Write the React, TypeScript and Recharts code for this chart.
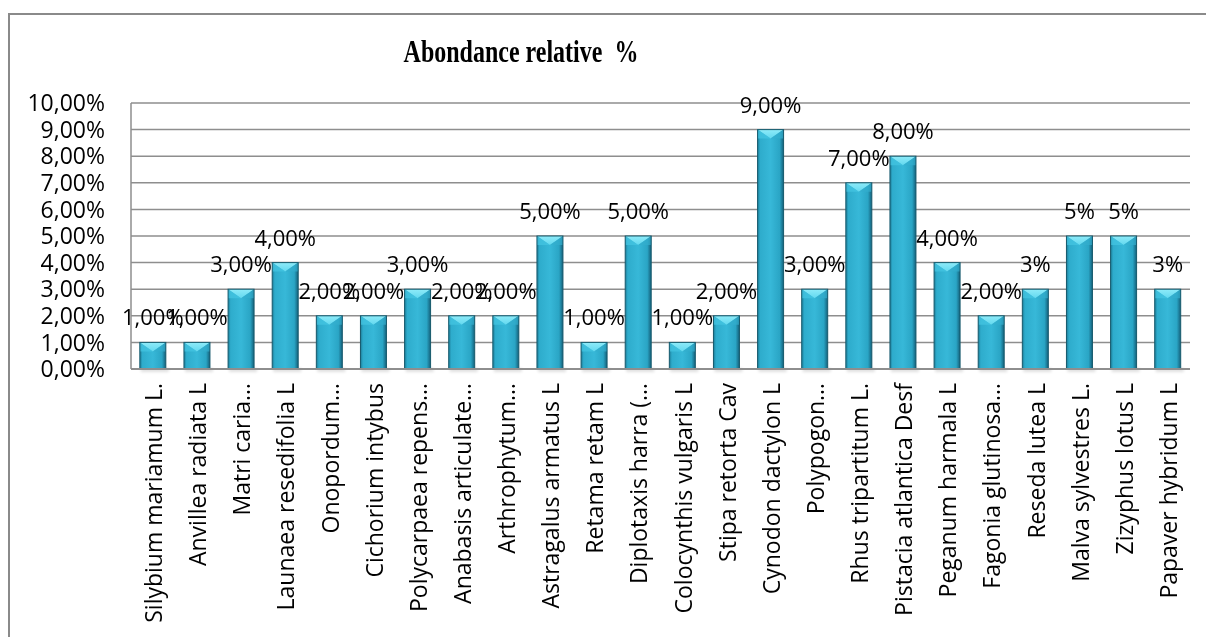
import React from "react";
import { BarChart, Bar, XAxis, YAxis, CartesianGrid, LabelList } from "recharts";

// Species shown on the category axis (long names are cut with an ellipsis)
const species = [
  "Silybium mariamum L.",
  "Anvillea radiata L",
  "Matri caria…",
  "Launaea resedifolia L",
  "Onopordum…",
  "Cichorium intybus",
  "Polycarpaea repens…",
  "Anabasis articulate…",
  "Arthrophytum…",
  "Astragalus armatus L",
  "Retama retam L",
  "Diplotaxis harra (…",
  "Colocynthis vulgaris L",
  "Stipa retorta Cav",
  "Cynodon dactylon L",
  "Polypogon…",
  "Rhus tripartitum L.",
  "Pistacia atlantica Desf",
  "Peganum harmala L",
  "Fagonia glutinosa…",
  "Reseda lutea L",
  "Malva sylvestres L.",
  "Zizyphus lotus L",
  "Papaver hybridum L",
];

// Relative abundance of each species (fraction)
const abundance = [
  0.01, 0.01, 0.03, 0.04, 0.02, 0.02, 0.03, 0.02, 0.02, 0.05, 0.01, 0.05,
  0.01, 0.02, 0.09, 0.03, 0.07, 0.08, 0.04, 0.02, 0.03, 0.05, 0.05, 0.03,
];

// Number of decimals used in each bar's value label
const labelDecimals = [
  2, 2, 2, 2, 2, 2, 2, 2, 2, 2, 2, 2, 2, 2, 2, 2, 2, 2, 2, 2, 0, 0, 0, 0,
];

// Value-axis ticks
const yTicks = [0, 0.01, 0.02, 0.03, 0.04, 0.05, 0.06, 0.07, 0.08, 0.09, 0.1];

const data = species.map((name, i) => ({
  name,
  value: abundance[i],
  decimals: labelDecimals[i],
}));

const FONT = "'Open Sans', 'DejaVu Sans', sans-serif";

const pct = (v: number, d: number) =>
  (v * 100).toFixed(d).replace(".", ",") + "%";

// Bevelled column with a lighter pointed top face
const BevelBar = (props: any) => {
  const { x, y, width, height } = props;
  if (!height || height <= 0) return null;
  const bevel = Math.min(9, height / 2);
  const cx = x + width / 2;
  return (
    <g>
      <rect
        x={x + 1}
        y={y + height - 1}
        width={width + 2}
        height={4}
        fill="#000"
        opacity={0.12}
        filter="url(#barShadow)"
      />
      <rect x={x} y={y} width={width} height={height} fill="url(#barBody)" />
      <polygon
        points={`${x},${y} ${x + width},${y} ${cx},${y + bevel}`}
        fill="url(#barTop)"
      />
      <polygon
        points={`${x},${y} ${cx},${y + bevel} ${x},${y + bevel}`}
        fill="#45c6e2"
        opacity={0.7}
      />
      <polygon
        points={`${x + width},${y} ${cx},${y + bevel} ${x + width},${y + bevel}`}
        fill="#33aecd"
        opacity={0.7}
      />
      <rect
        x={x}
        y={y}
        width={width}
        height={height}
        fill="none"
        stroke="#175a6d"
        strokeWidth={1}
      />
    </g>
  );
};

const ValueLabel = (props: any) => {
  const { x, y, width, index } = props;
  const d = data[index];
  return (
    <text
      x={x + width / 2}
      y={y - 26}
      textAnchor="middle"
      dominantBaseline="central"
      fontFamily={FONT}
      fontSize={22}
      fill="#000"
    >
      {pct(d.value, d.decimals)}
    </text>
  );
};

const CategoryTick = (props: any) => {
  const { x, y, payload } = props;
  return (
    <text
      x={0}
      y={0}
      transform={`translate(${x},${y + 6}) rotate(-90)`}
      textAnchor="end"
      dominantBaseline="central"
      fontFamily={FONT}
      fontSize={23}
      fill="#000"
    >
      {payload.value}
    </text>
  );
};

export default function App() {
  return (
    <div style={{ position: "relative", width: 1198, height: 629 }}>
      <div
        style={{
          position: "fixed",
          left: 8,
          right: 0,
          top: 13,
          bottom: 0,
          borderTop: "2px solid #8a8a8a",
          borderLeft: "2px solid #8a8a8a",
          boxSizing: "border-box",
        }}
      />
      <div
        style={{
          position: "absolute",
          left: 513,
          top: 44,
          transform: "translate(-50%, -50%) scaleY(1.3)",
          fontFamily: "'Liberation Serif', 'Times New Roman', serif",
          fontWeight: "bold",
          fontSize: 24,
          whiteSpace: "pre",
          color: "#000",
        }}
      >
        {"Abondance relative  %"}
      </div>
      <div style={{ position: "absolute", left: 0, top: 0 }}>
        <BarChart
          width={1198}
          height={629}
          data={data}
          margin={{ top: 95, right: 16, bottom: 0, left: 0 }}
          barCategoryGap="20%"
        >
          <defs>
            <linearGradient id="barBody" x1="0" y1="0" x2="1" y2="0">
              <stop offset="0%" stopColor="#1c7d98" />
              <stop offset="10%" stopColor="#2eaccc" />
              <stop offset="50%" stopColor="#37b8d8" />
              <stop offset="85%" stopColor="#2aa5c5" />
              <stop offset="100%" stopColor="#14607a" />
            </linearGradient>
            <linearGradient id="barTop" x1="0" y1="0" x2="0" y2="1">
              <stop offset="0%" stopColor="#8eebf9" />
              <stop offset="100%" stopColor="#62d8ef" />
            </linearGradient>
            <filter id="barShadow" x="-20%" y="-100%" width="140%" height="300%">
              <feGaussianBlur stdDeviation="1.5" />
            </filter>
          </defs>
          <CartesianGrid vertical={false} stroke="#8e8e8e" strokeWidth={1.5} />
          <XAxis
            dataKey="name"
            interval={0}
            height={268}
            tickLine={false}
            axisLine={{ stroke: "#8e8e8e", strokeWidth: 2 }}
            tick={<CategoryTick />}
          />
          <YAxis
            width={123}
            domain={[0, 0.1]}
            ticks={yTicks}
            interval={0}
            tickLine={false}
            axisLine={{ stroke: "#8e8e8e", strokeWidth: 1.5 }}
            tickMargin={20}
            tickFormatter={(v: number) => pct(v, 2)}
            tick={{ fontFamily: FONT, fontSize: 23, fill: "#000" }}
          />
          <Bar dataKey="value" shape={<BevelBar />} isAnimationActive={false}>
            <LabelList dataKey="value" content={<ValueLabel />} />
          </Bar>
        </BarChart>
      </div>
    </div>
  );
}
